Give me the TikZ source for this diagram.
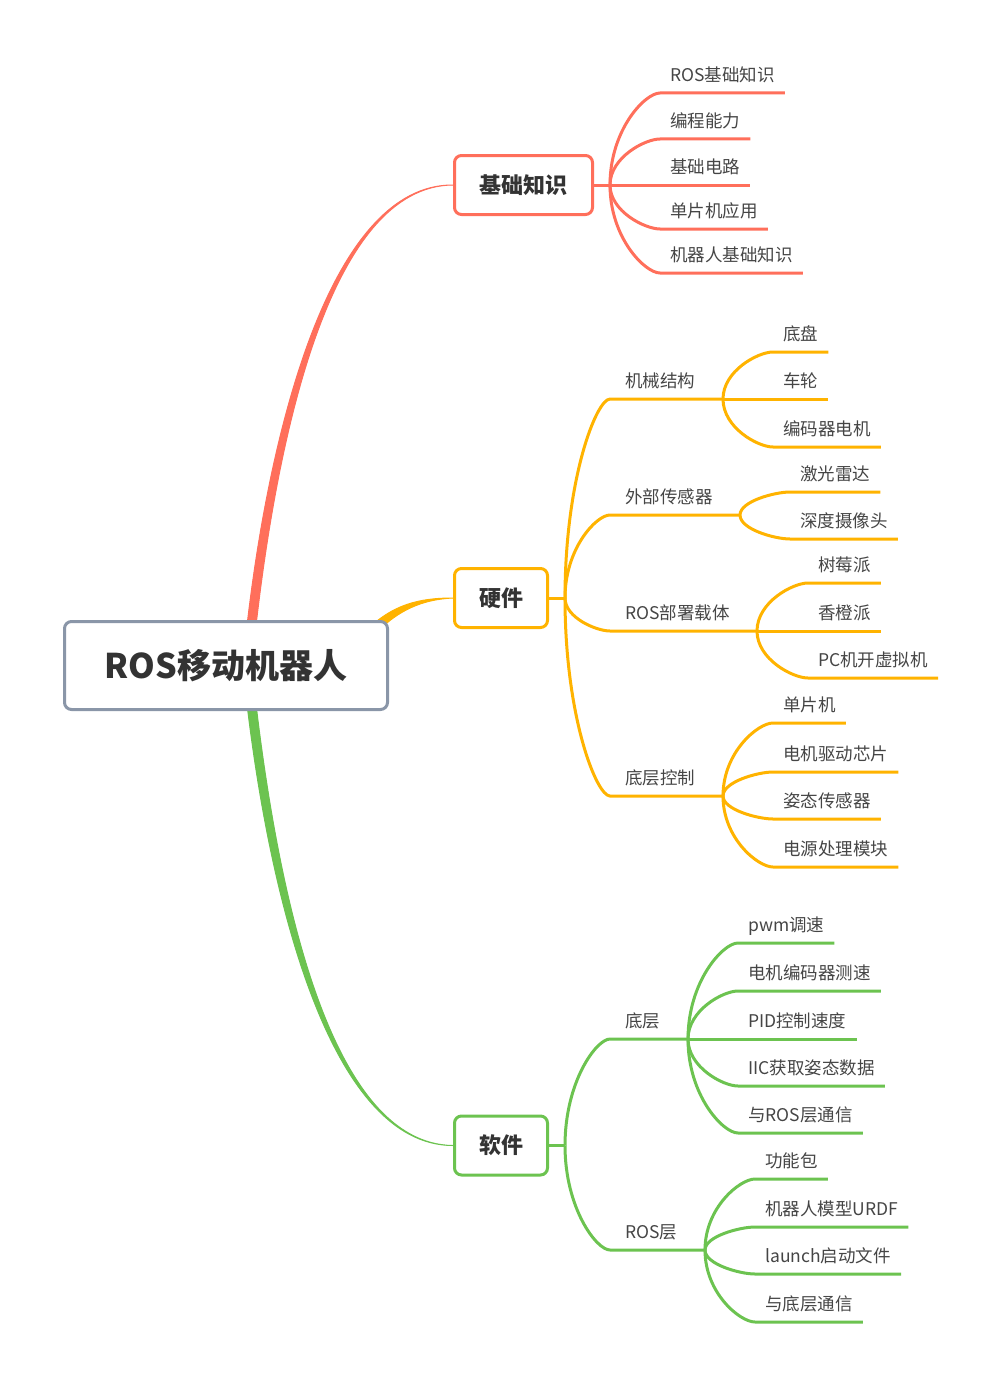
\documentclass[tikz,border=0pt]{standalone}
\usepackage{fontspec}
\setmainfont{Noto Sans CJK SC}
\usetikzlibrary{backgrounds, calc}
\definecolor{xred}{HTML}{FF6F5B}
\definecolor{xorange}{HTML}{FFB300}
\definecolor{xgreen}{HTML}{6CC350}
\definecolor{xgray}{HTML}{8A96A8}
\definecolor{xtext}{HTML}{333333}
\definecolor{xleaf}{HTML}{454545}
\tikzset{
  roottopic/.style={draw=xgray, line width=3pt, rounded corners=7pt, fill=white, minimum width=323pt, minimum height=88pt, font=\fontsize{34pt}{38pt}\selectfont\bfseries, text=xtext},
  maintopic/.style={draw=#1, line width=3pt, rounded corners=7pt, fill=white, minimum height=59pt, font=\fontsize{22pt}{26pt}\selectfont\bfseries, text=xtext},
  midtopic/.style={anchor=south west, inner xsep=15pt, inner ysep=5pt, text height=13pt, text depth=6pt, font=\fontsize{17.5pt}{20pt}\selectfont, text=xleaf},
  leaftopic/.style={midtopic, inner xsep=10pt},
  branch/.style={draw=#1, line width=3pt},
  twig/.style={to path={.. controls ($(\tikztostart)!0.6!(\tikztostart |- \tikztotarget)$) and ($(\tikztotarget)!0.3!(\tikztostart |- \tikztotarget)$) .. (\tikztotarget)}},
}
\begin{document}
\begin{tikzpicture}[x=1pt, y=-1pt]
\useasboundingbox (0,0) rectangle (1001,1386);
% central and main topics
\node[roottopic] (root) at (226,665.5) {ROS移动机器人};
\node[maintopic=xred, minimum width=138pt] (base) at (523.5,185) {基础知识};
\node[maintopic=xorange, minimum width=93pt] (hw) at (501,598) {硬件};
\node[maintopic=xgreen, minimum width=93pt] (sw) at (501,1145.5) {软件};
\coordinate (redfoot) at (251,630);
\coordinate (orangefoot) at (371,632);
\coordinate (greenfoot) at (251,700);
\begin{pgfonlayer}{background}
\filldraw[xred, line width=1pt] ([xshift=-4.5pt]redfoot) .. controls (269,431) and (330,184) .. (base.west)
  .. controls (331,186) and (278,431) .. ([xshift=4.5pt]redfoot) -- cycle;
\filldraw[xorange, line width=1pt] ([xshift=-6pt]orangefoot) .. controls (392,604) and (420,598) .. (hw.west)
  .. controls (421,599.5) and (398,611) .. ([xshift=6pt]orangefoot) -- cycle;
\filldraw[xgreen, line width=1pt] ([xshift=-4.5pt]greenfoot) .. controls (270,900) and (330,1145.5) .. (sw.west)
  .. controls (331,1144) and (279,900) .. ([xshift=4.5pt]greenfoot) -- cycle;
\end{pgfonlayer}
% 基础知识
\coordinate (basej) at (610,185);
\draw[branch=xred] (base.east) -- (basej);
\foreach \i/\y/\t in {1/93/ROS基础知识, 2/139/编程能力, 3/185/基础电路, 4/229/单片机应用, 5/273/机器人基础知识} {
  \node[leaftopic] (base\i) at (660,\y) {\t};
  \draw[branch=xred] (basej) to[twig] (base\i.south west) -- (base\i.south east);
}
% 硬件
\coordinate (hwj) at (565,598);
\draw[branch=xorange] (hw.east) -- (hwj);
\foreach \i/\y/\t/\jx in {1/399/机械结构/723, 2/515/外部传感器/740, 3/631/ROS部署载体/757, 4/796/底层控制/723} {
  \node[midtopic] (hw\i) at (610,\y) {\t};
  \coordinate (hwj\i) at (\jx,\y);
  \draw[branch=xorange] (hwj) to[twig] (hw\i.south west) -- (hwj\i);
}
\foreach \p/\x/\y/\t in {1/773/352/底盘, 1/773/399/车轮, 1/773/447/编码器电机,
    2/790/492/激光雷达, 2/790/539/深度摄像头,
    3/808/583/树莓派, 3/808/631/香橙派, 3/808/678/PC机开虚拟机,
    4/773/723/单片机, 4/773/772/电机驱动芯片, 4/773/819/姿态传感器, 4/773/867/电源处理模块} {
  \node[leaftopic] (hwleaf\y) at (\x,\y) {\t};
  \draw[branch=xorange] (hwj\p) to[twig] (hwleaf\y.south west) -- (hwleaf\y.south east);
}
% 软件
\coordinate (swj) at (565,1145.5);
\draw[branch=xgreen] (sw.east) -- (swj);
\foreach \i/\y/\t/\jx in {1/1039/底层/688, 2/1250/ROS层/705} {
  \node[midtopic] (sw\i) at (610,\y) {\t};
  \coordinate (swj\i) at (\jx,\y);
  \draw[branch=xgreen] (swj) to[twig] (sw\i.south west) -- (swj\i);
}
\foreach \p/\x/\y/\t in {1/738/943/pwm调速, 1/738/991/电机编码器测速, 1/738/1039/PID控制速度, 1/738/1086/IIC获取姿态数据, 1/738/1133/与ROS层通信,
    2/755/1179/功能包, 2/755/1227/机器人模型URDF, 2/755/1274/launch启动文件, 2/755/1322/与底层通信} {
  \node[leaftopic] (swleaf\y) at (\x,\y) {\t};
  \draw[branch=xgreen] (swj\p) to[twig] (swleaf\y.south west) -- (swleaf\y.south east);
}
\end{tikzpicture}
\end{document}
